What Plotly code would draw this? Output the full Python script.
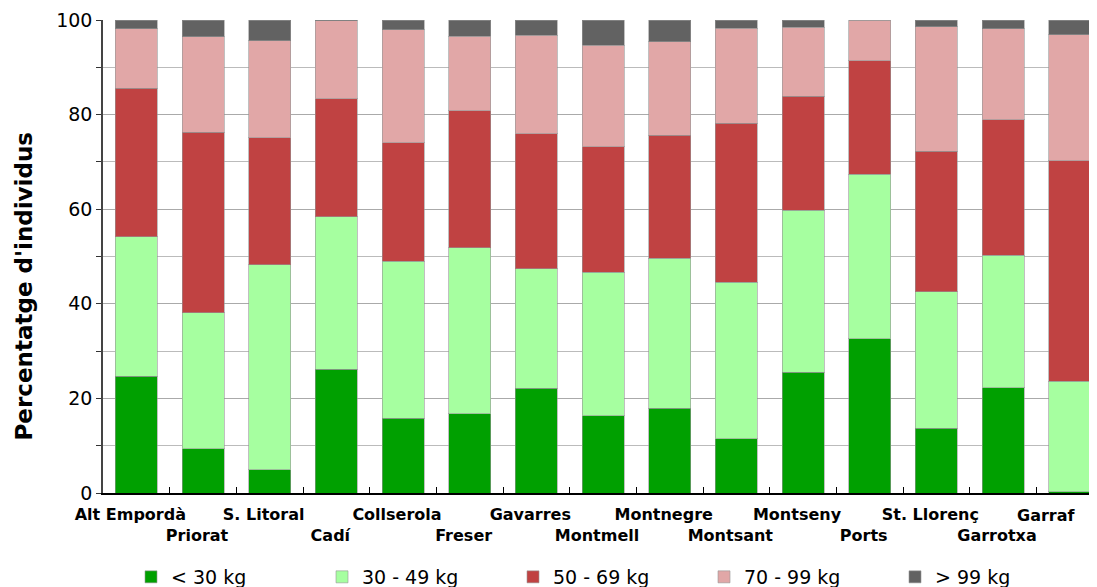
import plotly.graph_objects as go

parks = ['Alt Empordà', 'Priorat', 'S. Litoral', 'Cadí', 'Collserola', 'Freser',
         'Gavarres', 'Montmell', 'Montnegre', 'Montsant', 'Montseny', 'Ports',
         'St. Llorenç', 'Garrotxa', 'Garraf']

lt30 = [24.7, 9.4, 4.9, 26.2, 15.8, 16.8, 22.1, 16.3, 17.9, 11.5, 25.5, 32.6, 13.7, 22.3, 0.3]
w30_49 = [29.5, 28.7, 43.4, 32.2, 33.2, 35.1, 25.3, 30.4, 31.7, 33.1, 34.3, 34.8, 28.9, 28.0, 23.3]
w50_69 = [31.4, 38.2, 26.8, 25.0, 25.0, 28.9, 28.5, 26.5, 26.0, 33.6, 24.1, 24.0, 29.7, 28.6, 46.6]
w70_99 = [12.6, 20.2, 20.5, 16.4, 23.9, 15.8, 20.9, 21.5, 19.8, 20.1, 14.6, 8.6, 26.3, 19.3, 26.7]
gt99 = [1.8, 3.5, 4.4, 0.2, 2.1, 3.4, 3.2, 5.3, 4.6, 1.7, 1.5, 0.0, 1.4, 1.8, 3.1]

series = [
    ('< 30 kg', lt30, '#00a000'),
    ('30 - 49 kg', w30_49, '#a6ffa0'),
    ('50 - 69 kg', w50_69, '#c04242'),
    ('70 - 99 kg', w70_99, '#e1a7a7'),
    ('> 99 kg', gt99, '#626262'),
]

# alternate the category labels on two rows; the last one is an annotation
# so it can be pulled left to stay inside the page
tick_text = [p if i % 2 == 0 else '<br>' + p for i, p in enumerate(parks)]

fig = go.Figure()
for name, vals, col in series:
    fig.add_trace(go.Bar(
        name=name,
        x=parks,
        y=vals,
        marker=dict(color=col, line=dict(color='rgba(150,150,150,0.6)', width=1)),
    ))

label_font = dict(size=16, family='DejaVu Sans', weight='bold', color='black')
fig.add_annotation(x=parks[-1], y=0, xref='x', yref='y', text=parks[-1],
                   showarrow=False, yanchor='top', xanchor='center',
                   xshift=-23, yshift=-11, font=label_font)
fig.add_annotation(x=-0.079, y=0.4366, xref='paper', yref='paper',
                   text="Percentatge d'individus", textangle=-90,
                   showarrow=False, xanchor='center', yanchor='middle',
                   font=dict(size=23, family='DejaVu Sans', weight='bold'))

fig.update_layout(
    barmode='stack',
    bargap=0.37,
    width=1095,
    height=579,
    margin=dict(l=95, r=0, t=12, b=94, autoexpand=False),
    plot_bgcolor='white',
    paper_bgcolor='white',
    font=dict(family='DejaVu Sans', color='black'),
    showlegend=True,
    legend=dict(
        orientation='h',
        x=0.028, xanchor='left',
        yref='container', y=0.0173, yanchor='middle',
        font=dict(size=19),
        entrywidth=146,
        traceorder='normal',
    ),
    xaxis=dict(
        type='category',
        range=[-0.5, 14.5],
        tickvals=parks[:-1],
        ticktext=tick_text[:-1],
        tickangle=0,
        tickson='boundaries',
        ticks='inside',
        ticklen=6,
        tickcolor='black',
        ticklabelshift=-6,
        ticklabelstandoff=6,
        showline=True,
        linecolor='black',
        linewidth=1.5,
        tickfont=label_font,
        showgrid=False,
        automargin=False,
    ),
    yaxis=dict(
        range=[0, 100],
        dtick=20,
        ticks='outside',
        ticklen=5,
        tickcolor='#333',
        showline=True,
        linecolor='#444',
        linewidth=1.5,
        showgrid=True,
        gridcolor='#aaaaaa',
        gridwidth=1.2,
        minor=dict(dtick=10, ticks='outside', ticklen=5, tickcolor='#333',
                   showgrid=True, gridcolor='#bbbbbb', gridwidth=1.2),
        tickfont=dict(size=19),
        zeroline=False,
        automargin=False,
    ),
)

fig.write_html("out.html")
